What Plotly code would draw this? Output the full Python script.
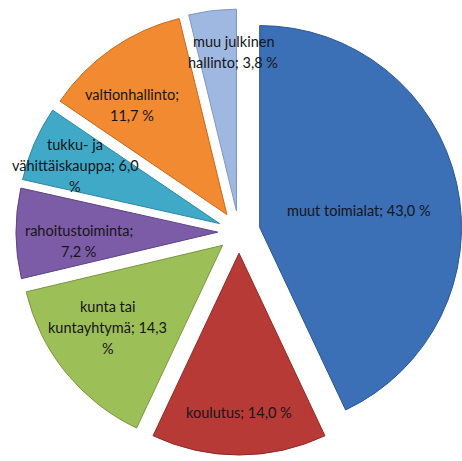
import math
import textwrap
import plotly.graph_objects as go

# Employment sectors and their shares (%)
categories = ["muut toimialat", "koulutus", "kunta tai kuntayhtymä", "rahoitustoiminta",
              "tukku- ja vähittäiskauppa", "valtionhallinto", "muu julkinen hallinto"]
shares = [43.0, 14.0, 14.3, 7.2, 6.0, 11.7, 3.8]

# Slice styling
colors = ["#3B6FB6", "#B73A36", "#9DBF58", "#7C5CA6", "#3FA9C7", "#F18A30", "#9FB8E2"]
edge_colors = ["#2C5590", "#8E2A27", "#7A9740", "#5E4482", "#2E87A1", "#C46A1E", "#7F97C2"]
wrap_widths = [30, 30, 18, 17, 20, 16, 16]       # characters per label line
label_radius = [0.50, 0.79, 0.70, 0.69, 0.77, 0.72, 0.79]  # label distance along bisector
label_turn = [2.7, 0, 3.3, -3.3, -1.5, -6.1, 5.7]          # angular nudge of label (deg)

W, H = 462, 461
PULL = 0.105
LINE_GAP = 21
dom_x = [16 / W, 1.0]
dom_y = [6 / H, 1 - 9 / H]

fig = go.Figure(go.Pie(
    labels=categories,
    values=shares,
    sort=False,
    direction="clockwise",
    rotation=0,
    pull=PULL,
    marker=dict(colors=colors, line=dict(color=edge_colors, width=1)),
    textinfo="none",
    hoverinfo="label+percent",
    domain=dict(x=dom_x, y=dom_y),
    showlegend=False,
))

# Pie geometry as laid out by plotly (pixels)
box_w = W * (dom_x[1] - dom_x[0])
box_h = H * (dom_y[1] - dom_y[0])
r = min(box_w, box_h) / 2 / (1 + PULL)
cx = W * (dom_x[0] + dom_x[1]) / 2
cy = H * (1 - (dom_y[0] + dom_y[1]) / 2)


def fmt(v):
    return f"{v:.1f}".replace(".", ",") + " %"


total = sum(shares)
cum = 0.0
annotations = []
for i, (name, v) in enumerate(zip(categories, shares)):
    mid = 360.0 * (cum + v / 2) / total
    cum += v
    dx, dy = math.sin(math.radians(mid)), -math.cos(math.radians(mid))
    tipx, tipy = cx + PULL * r * dx, cy + PULL * r * dy
    a = math.radians(mid + label_turn[i])
    px = tipx + label_radius[i] * r * math.sin(a)
    py = tipy - label_radius[i] * r * math.cos(a)
    text = f"{name}; {fmt(v)}"
    lines = textwrap.wrap(text, width=wrap_widths[i], break_on_hyphens=False)
    n = len(lines)
    for k, line in enumerate(lines):
        annotations.append(dict(
            x=px / W, y=1 - py / H, xref="paper", yref="paper",
            text=line, showarrow=False, xanchor="center", yanchor="middle",
            yshift=-(k - (n - 1) / 2) * LINE_GAP,
            font=dict(family="Lato", size=14.5, color="#161618"),
        ))

fig.update_layout(
    width=W, height=H,
    margin=dict(l=0, r=0, t=0, b=0),
    paper_bgcolor="white",
    plot_bgcolor="white",
    annotations=annotations,
)

fig.write_html("out.html")
